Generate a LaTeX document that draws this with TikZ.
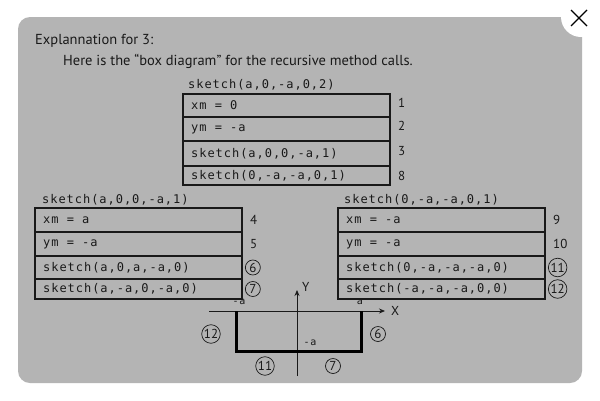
\documentclass[tikz,border=0pt]{standalone}
\usepackage{fontspec}
\setmainfont{PT Sans}
\newfontfamily\codefont{DejaVu Sans Mono}[LetterSpace=8]
\usetikzlibrary{arrows.meta,positioning}
\definecolor{panel}{RGB}{180,180,180}
\definecolor{ink}{RGB}{25,25,25}

\begin{document}
\begin{tikzpicture}[
    x=1pt, y=-1pt, text=ink,
    node distance=0pt,
    cell/.style={draw=ink, line width=1pt, anchor=north west, minimum width=206pt, inner sep=0pt},
    code/.style={inner sep=0pt, font=\codefont\fontsize{12}{14}\selectfont},
    head/.style={anchor=west, inner sep=0pt, font=\codefont\fontsize{12}{14}\selectfont},
    tag/.style={inner sep=1pt, font=\fontsize{13}{15}\selectfont},
    circ/.style={circle, draw=ink, line width=0.7pt, inner sep=0.6pt, minimum size=15pt, font=\fontsize{13}{15}\selectfont},
    small/.style={inner sep=0pt, font=\codefont\fontsize{10}{12}\selectfont},
    frame/.style={draw=ink, line width=1.6pt},
    axis/.style={-{Stealth[length=6pt,width=5pt]}, line width=0.8pt, draw=ink}
]
\useasboundingbox (0,0) rectangle (600,400);
\fill[white] (0,0) rectangle (600,400);
% panel with close button
\fill[panel, rounded corners=12pt] (18,17) rectangle (582,383);
\fill[white] (581,17) circle (20pt);
\draw[line width=1.3pt] (571,10) -- (587,26) (587,10) -- (571,26);

% heading
\node[anchor=west, inner sep=0pt, font=\fontsize{14.5}{16}\selectfont] (title) at (35,41) {Explannation for 3:};
\node[anchor=west, inner sep=0pt, font=\fontsize{14.5}{16}\selectfont] (intro) at (63,61) {Here is the “box diagram” for the recursive method calls.};

% top box
\node[head] (h0) at (188,85) {sketch(a,0,-a,0,2)};
\node[cell, minimum height=22pt] (t1) at (183,94) {};
\node[cell, minimum height=23pt, below=of t1.south west, anchor=north west] (t2) {};
\node[cell, minimum height=24pt, below=of t2.south west, anchor=north west] (t3) {};
\node[cell, minimum height=18pt, below=of t3.south west, anchor=north west] (t4) {};
\draw[frame] (t1.north west) rectangle (t4.south east);
\node[code, right=8pt of t1.west] {xm = 0};
\node[code, right=8pt of t2.west] {ym = -a};
\node[code, right=8pt of t3.west] {sketch(a,0,0,-a,1)};
\node[code, right=8pt of t4.west] {sketch(0,-a,-a,0,1)};
\node[tag, right=7pt of t1.east, yshift=3pt] {1};
\node[tag, right=7pt of t2.east, yshift=3pt] {2};
\node[tag, right=7pt of t3.east, yshift=2pt] {3};
\node[tag, right=7pt of t4.east] {8};

% left box
\node[head] (h1) at (42,200) {sketch(a,0,0,-a,1)};
\node[cell, minimum height=23pt] (l1) at (35,208) {};
\node[cell, minimum height=23pt, below=of l1.south west, anchor=north west] (l2) {};
\node[cell, minimum height=22pt, below=of l2.south west, anchor=north west] (l3) {};
\node[cell, minimum height=19pt, below=of l3.south west, anchor=north west] (l4) {};
\draw[frame] (l1.north west) rectangle (l4.south east);
\node[code, right=8pt of l1.west] {xm = a};
\node[code, right=8pt of l2.west] {ym = -a};
\node[code, right=8pt of l3.west] {sketch(a,0,a,-a,0)};
\node[code, right=8pt of l4.west] {sketch(a,-a,0,-a,0)};
\node[tag, right=7pt of l1.east] {4};
\node[tag, right=7pt of l2.east] {5};
\node[circ, right=3pt of l3.east] (l3n) {6};
\node[circ, right=3pt of l4.east] (l4n) {7};

% right box
\node[head] (h2) at (344,200) {sketch(0,-a,-a,0,1)};
\node[cell, minimum height=23pt] (r1) at (338,208) {};
\node[cell, minimum height=23pt, below=of r1.south west, anchor=north west] (r2) {};
\node[cell, minimum height=22pt, below=of r2.south west, anchor=north west] (r3) {};
\node[cell, minimum height=19pt, below=of r3.south west, anchor=north west] (r4) {};
\draw[frame] (r1.north west) rectangle (r4.south east);
\node[code, right=8pt of r1.west] {xm = -a};
\node[code, right=8pt of r2.west] {ym = -a};
\node[code, right=8pt of r3.west] {sketch(0,-a,-a,-a,0)};
\node[code, right=8pt of r4.west] {sketch(-a,-a,-a,0,0)};
\node[tag, right=7pt of r1.east] {9};
\node[tag, right=7pt of r2.east] {10};
\node[circ, right=3pt of r3.east] (r3n) {11};
\node[circ, right=3pt of r4.east] (r4n) {12};

% sketch of the path
\coordinate (xs) at (209,311);
\coordinate (xe) at (385,311);
\coordinate (ys) at (297,376);
\coordinate (ye) at (297,290);
\draw[axis] (xs) -- (xe);
\draw[axis] (ys) -- (ye);
\node[anchor=west, inner sep=0pt, font=\fontsize{13}{15}\selectfont] (xlab) at (391,311) {X};
\node[anchor=west, inner sep=0pt, font=\fontsize{13}{15}\selectfont] (ylab) at (302,287) {Y};
\coordinate (p1) at (236,311);
\coordinate (p2) at (236,351);
\coordinate (p3) at (361,351);
\coordinate (p4) at (361,311);
\draw[line width=3pt, line join=miter] (p1) -- (p2) -- (p3) -- (p4);
\node[small] (ma) at (239,302) {-a};
\node[small] (pa) at (360,302) {a};
\node[small] (mb) at (310,343) {-a};
\node[circ] (c12) at (211,334) {12};
\node[circ] (c6) at (378,334) {6};
\node[circ] (c11) at (265,366) {11};
\node[circ] (c7) at (333,366) {7};
\end{tikzpicture}
\end{document}
